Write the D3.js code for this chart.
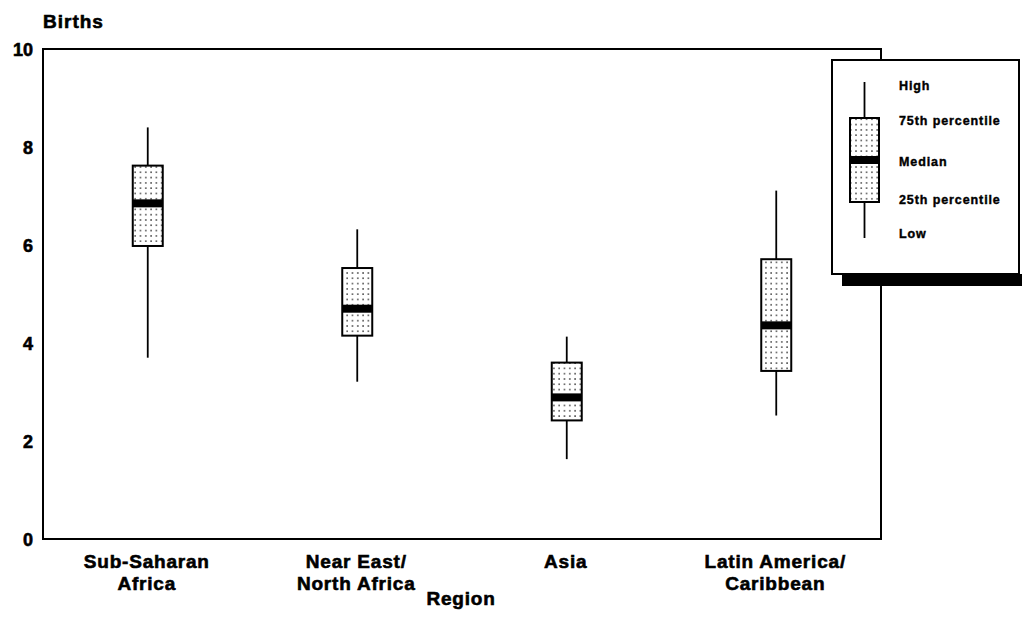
<!DOCTYPE html>
<html>
<head>
<meta charset="utf-8">
<script src="https://cdn.jsdelivr.net/npm/d3@7"></script>
<style>
  body { margin: 0; background: #fff; }
  svg { display: block; }
  text { font-family: "Liberation Sans", Arial, sans-serif; font-weight: bold; fill: #000; }
</style>
</head>
<body>
<svg id="chart" width="1022" height="637"></svg>
<script>
// ---- data ----
const categories = ["Sub-Saharan Africa", "Near East/ North Africa", "Asia", "Latin America/ Caribbean"];
const categoryLines = [["Sub-Saharan", "Africa"], ["Near East/", "North Africa"], ["Asia"], ["Latin America/", "Caribbean"]];
const highValues   = [8.4, 6.32, 4.13, 7.11];
const q3Values     = [7.62, 5.53, 3.6, 5.71];
const medianValues = [6.85, 4.7, 2.89, 4.36];
const q1Values     = [5.98, 4.15, 2.42, 3.43];
const lowValues    = [3.7, 3.21, 1.63, 2.52];
const yTicks = [0, 2, 4, 6, 8, 10];
const legendLabels = ["High", "75th percentile", "Median", "25th percentile", "Low"];

const svg = d3.select("#chart");
const frame = { left: 43, top: 49, right: 881, bottom: 539 };

const defs = svg.append("defs");
const pat = defs.append("pattern")
  .attr("id", "dots").attr("patternUnits", "userSpaceOnUse")
  .attr("width", 5.3).attr("height", 5.3);
pat.append("rect").attr("width", 5.3).attr("height", 5.3).attr("fill", "#fff");
pat.append("rect").attr("x", 2).attr("y", 2).attr("width", 1.4).attr("height", 1.4).attr("fill", "#222");

const x = d3.scalePoint().domain(categories).range([frame.left, frame.right]).padding(0.5);
const y = d3.scaleLinear().domain([0, 10]).range([frame.bottom, frame.top]);

// frame
svg.append("rect")
  .attr("x", frame.left).attr("y", frame.top)
  .attr("width", frame.right - frame.left).attr("height", frame.bottom - frame.top)
  .attr("fill", "none").attr("stroke", "#000").attr("stroke-width", 2);

// y axis
const yAxis = svg.append("g").attr("transform", `translate(${frame.left},0)`)
  .call(d3.axisLeft(y).tickValues(yTicks).tickSize(0).tickPadding(10).tickFormat(d3.format("d")));
yAxis.select(".domain").remove();
yAxis.selectAll("text")
  .attr("font-family", "Liberation Sans, Arial, sans-serif")
  .attr("font-weight", "bold").attr("font-size", 18)
  .attr("fill", "#000").attr("stroke", "#000").attr("stroke-width", 0.6)
  .attr("dy", "0.36em");

svg.append("text").attr("x", 43).attr("y", 28)
  .attr("font-size", 19).attr("letter-spacing", 1)
  .attr("stroke", "#000").attr("stroke-width", 0.6)
  .text("Births");

// boxes
const rows = categories.map((c, i) => ({
  c, high: highValues[i], q3: q3Values[i], med: medianValues[i], q1: q1Values[i], low: lowValues[i]
}));
const boxW = 30, medH = 8;
const g = svg.append("g");
const b = g.selectAll("g.box").data(rows).join("g").attr("class", "box");
b.append("line")
  .attr("x1", d => x(d.c)).attr("x2", d => x(d.c))
  .attr("y1", d => y(d.high)).attr("y2", d => y(d.low))
  .attr("stroke", "#000").attr("stroke-width", 1.8);
b.append("rect")
  .attr("x", d => x(d.c) - boxW / 2).attr("width", boxW)
  .attr("y", d => y(d.q3)).attr("height", d => y(d.q1) - y(d.q3))
  .attr("fill", "url(#dots)").attr("stroke", "#000").attr("stroke-width", 2);
b.append("rect")
  .attr("x", d => x(d.c) - boxW / 2).attr("width", boxW)
  .attr("y", d => y(d.med) - medH / 2).attr("height", medH)
  .attr("fill", "#000");

// category labels
const lab = svg.append("g").selectAll("text").data(rows).join("text")
  .attr("text-anchor", "middle")
  .attr("font-size", 19).attr("letter-spacing", 0.8)
  .attr("stroke", "#000").attr("stroke-width", 0.6);
lab.each(function (d, i) {
  const t = d3.select(this);
  categoryLines[i].forEach((ln, k) => {
    t.append("tspan").attr("x", x(d.c) - 1).attr("y", 568 + k * 22).text(ln);
  });
});

svg.append("text").attr("x", 461).attr("y", 605)
  .attr("text-anchor", "middle").attr("font-size", 19).attr("letter-spacing", 0.8)
  .attr("stroke", "#000").attr("stroke-width", 0.6)
  .text("Region");

// legend
const lg = svg.append("g");
lg.append("rect").attr("x", 842).attr("y", 274).attr("width", 185).attr("height", 12).attr("fill", "#000");
lg.append("rect").attr("x", 832).attr("y", 60).attr("width", 187).attr("height", 214)
  .attr("fill", "#fff").attr("stroke", "#000").attr("stroke-width", 2);
lg.append("line").attr("x1", 864.5).attr("x2", 864.5).attr("y1", 82).attr("y2", 238)
  .attr("stroke", "#000").attr("stroke-width", 1.8);
lg.append("rect").attr("x", 850).attr("y", 118).attr("width", 29).attr("height", 84)
  .attr("fill", "url(#dots)").attr("stroke", "#000").attr("stroke-width", 2);
lg.append("rect").attr("x", 850).attr("y", 156).attr("width", 29).attr("height", 8).attr("fill", "#000");
const legY = [86, 121, 162, 200, 234];
lg.selectAll("text.leg").data(legendLabels).join("text").attr("class", "leg")
  .attr("x", 899).attr("y", (d, i) => legY[i]).attr("dy", "0.35em")
  .attr("font-size", 12.5).attr("letter-spacing", 0.9)
  .attr("stroke", "#000").attr("stroke-width", 0.4)
  .text(d => d);
</script>
</body>
</html>
